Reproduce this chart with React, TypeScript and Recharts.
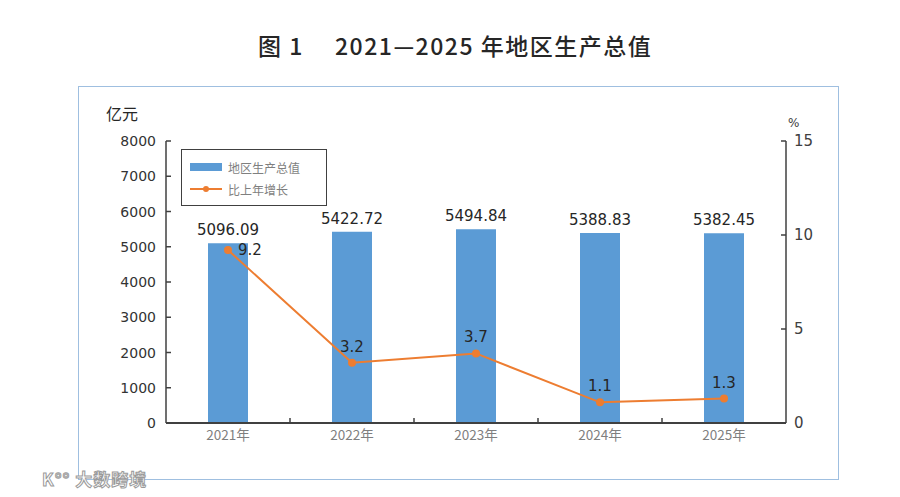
import React from "react";
import {
  ComposedChart, Bar, Line, XAxis, YAxis, LabelList, Legend,
} from "recharts";

const years = ["2021年", "2022年", "2023年", "2024年", "2025年"];
const gdp = [5096.09, 5422.72, 5494.84, 5388.83, 5382.45];
const growth = [9.2, 3.2, 3.7, 1.1, 1.3];
const leftTicks = [0, 1000, 2000, 3000, 4000, 5000, 6000, 7000, 8000];
const rightTicks = [0, 5, 10, 15];

const data = years.map((year, i) => ({ year, gdp: gdp[i], growth: growth[i] }));

const W = 900;
const H = 497;
const PLOT = { left: 166, right: 786, top: 141, bottom: 423 };
const BAND = (PLOT.right - PLOT.left) / years.length;
const AXIS = "#404040";
const FONT = "'DejaVu Sans', 'Noto Sans CJK SC', sans-serif";
const CJK = "'Noto Sans CJK SC', sans-serif";

function LeftTick(props: any) {
  const { x, y, payload } = props;
  return (
    <g>
      <line x1={x + 6} x2={x + 11} y1={y} y2={y} stroke={AXIS} strokeWidth={1.5} />
      <text x={x - 4} y={y} dy={5} textAnchor="end" fontSize={14} fill="#333" fontFamily={FONT}>
        {payload.value}
      </text>
    </g>
  );
}

function RightTick(props: any) {
  const { x, y, payload } = props;
  return (
    <g>
      <line x1={x - 6} x2={x - 11} y1={y} y2={y} stroke={AXIS} strokeWidth={1.5} />
      <text x={x + 2} y={y} dy={5} textAnchor="start" fontSize={15} fill="#404040" fontFamily={FONT}>
        {payload.value}
      </text>
    </g>
  );
}

function CatTick(props: any) {
  const { x, y, payload, index } = props;
  const last = index === years.length - 1;
  return (
    <g>
      {!last && (
        <line x1={x + BAND / 2} x2={x + BAND / 2} y1={PLOT.bottom} y2={PLOT.bottom - 5} stroke={AXIS} strokeWidth={1.5} />
      )}
      <text x={x} y={y} dy={15} textAnchor="middle" fontSize={13.5} fill="#7f7f7f" fontFamily={CJK}>
        {payload.value}
      </text>
    </g>
  );
}

function GrowthLabel(props: any) {
  const { x, y, value, index } = props;
  const first = index === 0;
  return (
    <text
      x={first ? x + 10 : x}
      y={first ? y + 5 : y - 11}
      textAnchor={first ? "start" : "middle"}
      fontSize={15}
      fill="#262626"
      fontFamily={FONT}
    >
      {value}
    </text>
  );
}

function LegendBox() {
  return (
    <div
      style={{
        width: 146, height: 57, border: "1.5px solid #404040", boxSizing: "border-box",
        background: "#fff", fontFamily: CJK, fontSize: 12, color: "#7f7f7f", padding: "6px 0 0 8px",
      }}
    >
      <div style={{ display: "flex", alignItems: "center", height: 22 }}>
        <span style={{ display: "inline-block", width: 32, height: 8, background: "#5b9bd5", marginRight: 6 }} />
        地区生产总值
      </div>
      <div style={{ display: "flex", alignItems: "center", height: 22 }}>
        <svg width={32} height={10} style={{ marginRight: 6 }}>
          <line x1={0} x2={32} y1={5} y2={5} stroke="#ed7d31" strokeWidth={2} />
          <circle cx={16} cy={5} r={3} fill="#ed7d31" />
        </svg>
        比上年增长
      </div>
    </div>
  );
}

export default function App() {
  return (
    <div style={{ position: "absolute", left: 0, top: 0, width: W, height: H, background: "#fff" }}>
      <div
        style={{
          position: "absolute", left: 258, top: 28, whiteSpace: "nowrap",
          fontFamily: CJK, fontWeight: 500, fontSize: 23, color: "#262626", letterSpacing: 1.5,
        }}
      >
        图 1　 2021—2025 年地区生产总值
      </div>
      <div
        style={{
          position: "absolute", left: 78, top: 86, width: 761, height: 394,
          border: "1.5px solid #9fbfe0", boxSizing: "border-box",
        }}
      />
      <div style={{ position: "absolute", left: 106, top: 101, fontFamily: CJK, fontSize: 16, color: "#262626" }}>
        亿元
      </div>
      <div style={{ position: "absolute", left: 788, top: 116, fontFamily: FONT, fontSize: 12, color: "#404040" }}>
        %
      </div>
      <div
        style={{
          position: "absolute", left: 42, top: 466, fontFamily: CJK, fontSize: 17, fontWeight: 700,
          color: "#fff", WebkitTextStroke: "1px #9a9a9a", letterSpacing: 1,
        }}
      >
        K°° 大数跨境
      </div>
      <div style={{ position: "absolute", left: 0, top: 0 }}>
        <ComposedChart
          width={W}
          height={H}
          data={data}
          margin={{ top: PLOT.top, right: W - PLOT.right - 40, bottom: H - PLOT.bottom - 30, left: PLOT.left - 50 }}
        >
          <XAxis xAxisId="top" orientation="top" dataKey="year" height={0} tick={false} tickLine={false}
            axisLine={{ stroke: AXIS, strokeWidth: 1.5 }} />
          <XAxis xAxisId="cat" dataKey="year" height={30} tickLine={false} tickSize={0}
            axisLine={{ stroke: AXIS, strokeWidth: 2 }} tick={<CatTick />} interval={0} />
          <YAxis yAxisId="left" width={50} domain={[0, 8000]} ticks={leftTicks} tickLine={false}
            tickSize={0} tickMargin={6} axisLine={{ stroke: AXIS, strokeWidth: 1.5 }} tick={<LeftTick />} />
          <YAxis yAxisId="right" orientation="right" width={40} domain={[0, 15]} ticks={rightTicks}
            tickLine={false} tickSize={0} tickMargin={6} axisLine={{ stroke: AXIS, strokeWidth: 1.5 }}
            tick={<RightTick />} />
          <Legend
            layout="horizontal"
            verticalAlign="middle"
            align="center"
            content={<LegendBox />}
            wrapperStyle={{ position: "absolute", left: 181, top: 149, width: 146, height: 57 }}
          />
          <Bar xAxisId="cat" yAxisId="left" dataKey="gdp" fill="#5b9bd5" barSize={40} isAnimationActive={false}>
            <LabelList dataKey="gdp" position="top" offset={8} fontSize={15} fill="#262626"
              fontFamily={FONT} formatter={(v: any) => Number(v).toFixed(2)} />
          </Bar>
          <Line xAxisId="cat" yAxisId="right" dataKey="growth" stroke="#ed7d31" strokeWidth={2}
            dot={{ r: 3, fill: "#ed7d31", stroke: "#ed7d31" }} isAnimationActive={false}>
            <LabelList dataKey="growth" content={<GrowthLabel />} />
          </Line>
        </ComposedChart>
      </div>
    </div>
  );
}
